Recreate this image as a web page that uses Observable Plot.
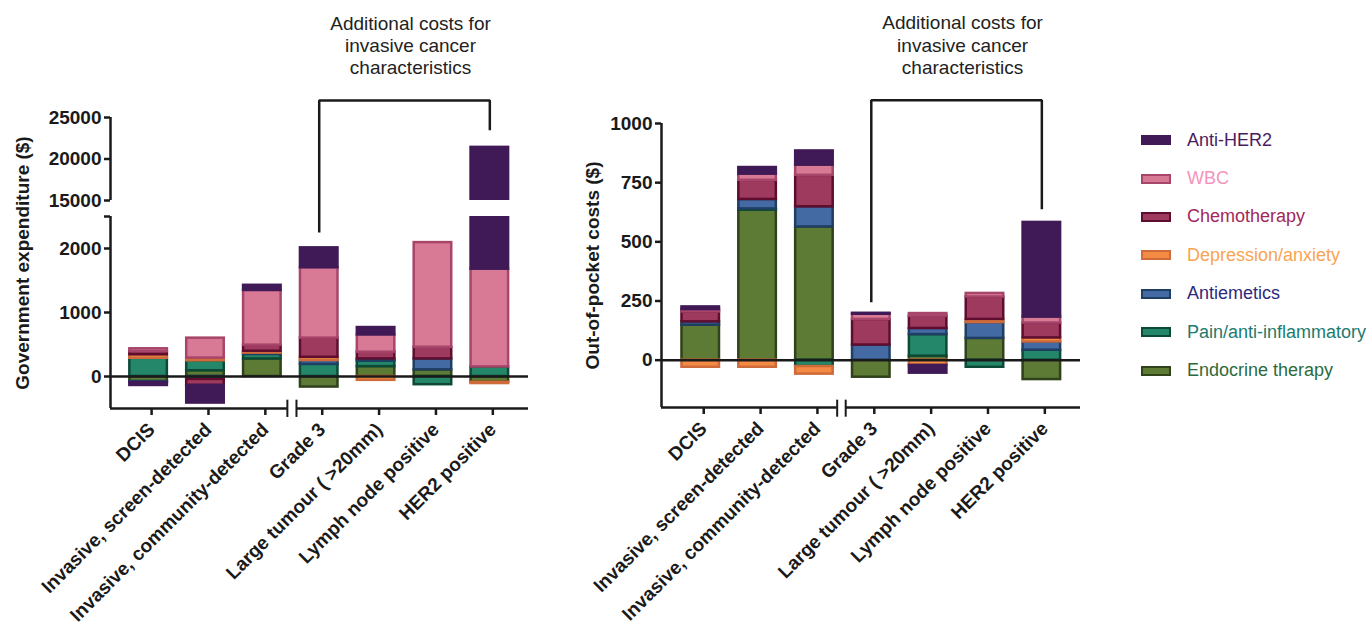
<!DOCTYPE html>
<html>
<head>
<meta charset="utf-8">
<script src="https://cdn.jsdelivr.net/npm/d3@7"></script>
<script src="https://cdn.jsdelivr.net/npm/@observablehq/plot@0.6"></script>
<style>
  body { margin: 0; background: #fff; }
  #wrap { position: relative; width: 1372px; height: 631px; overflow: hidden; font-family: "Liberation Sans", Arial, sans-serif; }
  #left { position: absolute; left: 0; top: 0; }
  #right { position: absolute; left: 560px; top: 0; }
  #legend { position: absolute; left: 1141px; top: 121px; }
  .item { display: flex; align-items: center; height: 38.4px; }
  .sw { width: 26px; height: 6px; border: 2px solid; margin-right: 16px; }
  .lab { font-size: 18px; white-space: nowrap; }
</style>
</head>
<body>
<div id="wrap"><div id="left"></div><div id="right"></div><div id="legend"></div></div>
<script>
// ---------- data ----------
const categories = ["DCIS", "Invasive, screen-detected", "Invasive, community-detected", "Grade 3", "Large tumour ( >20mm)", "Lymph node positive", "HER2 positive"];
// stacking order (bottom to top)
const series = ["Endocrine therapy", "Pain/anti-inflammatory", "Antiemetics", "Depression/anxiety", "Chemotherapy", "WBC", "Anti-HER2"];
const legendOrder = ["Anti-HER2", "WBC", "Chemotherapy", "Depression/anxiety", "Antiemetics", "Pain/anti-inflammatory", "Endocrine therapy"];
const fillColors = ["#5d7b35", "#258769", "#436aa3", "#f38b45", "#9e3a5e", "#d87a96", "#3f1a56"];
const strokeColors = ["#2f4219", "#0c4a37", "#1f3e63", "#cf6a3a", "#5e0d2f", "#a8456a", "#3f1a56"];
const textColors = ["#2d6a3b", "#1d7a6e", "#2d2a7c", "#f9a451", "#a3275b", "#f393bd", "#4a1d5e"];

// Government expenditure ($), by category
const govEndocrine   = [-80, 90, 275, -165, 155, 104, -90];
const govPain        = [285, 156, 70, 190, 85, -128, 150];
const govAntiemetics = [-15, -45, 20, 60, 35, 171, 0];
const govDepression  = [55, 42, 30, 50, -60, 0, -20];
const govChemo       = [48, -95, 95, 300, 105, 182, 0];
const govWBC         = [45, 311, 855, 1100, 270, 1635, 1527];
const govAntiHER2    = [-45, -275, 80, 310, 115, 0, 19723];

// Out-of-pocket costs ($), by category
const oopEndocrine   = [148, 634, 563, -72, 17, 92, -82];
const oopPain        = [0, 5, -27, 0, 91, -30, 42];
const oopAntiemetics = [14, 40, 85, 64, 26, 67, 35];
const oopDepression  = [-30, -30, -32, 0, -22, 13, 17];
const oopChemo       = [42, 81, 133, 108, 52, 95, 63];
const oopWBC         = [10, 26, 43, 22, 11, 15, 25];
const oopAntiHER2    = [11, 28, 60, 4, -33, 0, 400];

const govTicks = [0, 1000, 2000, 15000, 20000, 25000];
const oopTicks = [0, 250, 500, 750, 1000];

const annotation = "Additional costs for\ninvasive cancer\ncharacteristics";
const bracketFrom = "Grade 3", bracketTo = "HER2 positive";
const govBracket = {top: 27050, leftEnd: 2250, rightEnd: 23450};
const oopBracket = {top: 1098, leftEnd: 245, rightEnd: 638};

// ---------- drawing ----------
const fillOf = Object.fromEntries(series.map((s, i) => [s, fillColors[i]]));
const strokeOf = Object.fromEntries(series.map((s, i) => [s, strokeColors[i]]));
const half = 0.33;
const font = '"Liberation Sans", Arial, sans-serif';

function panel(p) {
  const rows = [];
  series.forEach((s, si) => p.values[si].forEach((v, i) => {
    if (v !== 0) rows.push({cat: categories[i], i, series: s, value: v});
  }));
  const a = categories.indexOf(bracketFrom), b = categories.indexOf(bracketTo);
  const br = [
    {x: a, y: p.bracket.leftEnd}, {x: a, y: p.bracket.top},
    {x: b, y: p.bracket.top}, {x: b, y: p.bracket.rightEnd}
  ];
  const yMin = p.yDomain[0];
  const allTicks = p.yTicks.concat(p.capTicks);
  const plot = Plot.plot({
    width: p.width, height: 631,
    marginLeft: p.marginLeft, marginRight: p.marginRight, marginTop: p.marginTop, marginBottom: p.marginBottom,
    style: {fontFamily: font, fontSize: "19px", fontWeight: "bold", color: "#1a1a1a", background: "transparent", overflow: "visible"},
    x: {type: "linear", domain: p.xDomain},
    y: p.yRange ? {type: "linear", domain: p.yDomain, range: p.yRange} : {type: "linear", domain: p.yDomain},
    color: {type: "identity"},
    marks: [
      Plot.rectY(rows, {
        x1: d => d.i - half, x2: d => d.i + half, y: "value", z: "series", order: series,
        fill: d => fillOf[d.series], stroke: d => strokeOf[d.series], strokeWidth: 2.5
      }),
      p.gap ? Plot.rect([p.gap], {x1: () => p.xDomain[0], x2: () => p.xDomain[1], y1: d => d[0], y2: d => d[1], fill: "white"}) : null,
      Plot.ruleY([0], {stroke: "#1a1a1a", strokeWidth: 2.5}),
      Plot.ruleX(p.ySegments, {x: () => p.xDomain[0], y1: d => d[0], y2: d => d[1], stroke: "#1a1a1a", strokeWidth: 2.5}),
      Plot.ruleY(p.xSegments, {y: () => yMin, x1: d => d[0], x2: d => d[1], stroke: "#1a1a1a", strokeWidth: 2.5}),
      Plot.ruleX(p.xBreak, {x: d => d, y1: () => p.breakY[0], y2: () => p.breakY[1], stroke: "#1a1a1a", strokeWidth: 2}),
      Plot.axisY({ticks: allTicks, tickFormat: d => p.capTicks.includes(d) ? "" : String(d), tickSize: 6, tickPadding: 3, stroke: "#1a1a1a", strokeWidth: 2.5, fontSize: 19, fontWeight: "bold", fill: "#1a1a1a", label: null}),
      Plot.axisX({ticks: d3.range(categories.length), tickFormat: i => categories[i], tickRotate: -45, tickSize: 7, tickPadding: 11, dx: 3, stroke: "#1a1a1a", strokeWidth: 2.5, fontSize: 19, fontWeight: "bold", fill: "#1a1a1a", label: null}),
      Plot.text([p.yLabel], {frameAnchor: "left", textAnchor: "middle", lineAnchor: "middle", rotate: -90, dx: p.labelDx, fontSize: 19, fontWeight: "bold", fill: "#1a1a1a"}),
      Plot.line(br, {x: "x", y: "y", stroke: "#1a1a1a", strokeWidth: 2.5, strokeLinejoin: "miter", strokeLinecap: "butt"}),
      Plot.text([annotation], {x: () => (a + b) / 2, y: () => p.bracket.top, dx: 6, dy: -26, lineAnchor: "bottom", lineHeight: 1.18, fontSize: 19, fontWeight: "normal", fill: "#222"})
    ]
  });
  document.querySelector(p.el).append(plot);
}

panel({
  el: "#left", width: 560, marginLeft: 110, marginRight: 32, marginTop: 117, marginBottom: 223,
  values: [govEndocrine, govPain, govAntiemetics, govDepression, govChemo, govWBC, govAntiHER2],
  xDomain: [-0.67, 6.68],
  yDomain: [-500, 2500, 15000, 25000], yRange: [408, 216, 200, 117],
  yTicks: govTicks, capTicks: [2500],
  ySegments: [[-500, 2500], [15000, 25000]], gap: [2500, 15000],
  xSegments: [[-0.67, 2.44], [2.6, 6.68]], xBreak: [2.44, 2.6], breakY: [-370, -640],
  yLabel: "Government expenditure ($)", labelDx: -88, bracket: govBracket
});

panel({
  el: "#right", width: 560, marginLeft: 101, marginRight: 40, marginTop: 123, marginBottom: 224,
  values: [oopEndocrine, oopPain, oopAntiemetics, oopDepression, oopChemo, oopWBC, oopAntiHER2],
  xDomain: [-0.69, 6.68],
  yDomain: [-200, 1000], yRange: null,
  yTicks: oopTicks, capTicks: [],
  ySegments: [[-200, 1000]], gap: null,
  xSegments: [[-0.69, 2.4], [2.55, 6.68]], xBreak: [2.4, 2.55], breakY: [-169, -241],
  yLabel: "Out-of-pocket costs ($)", labelDx: -69, bracket: oopBracket
});

// legend
const legend = d3.select("#legend");
legendOrder.forEach(name => {
  const k = series.indexOf(name);
  const item = legend.append("div").attr("class", "item");
  item.append("div").attr("class", "sw").style("background", fillColors[k]).style("border-color", strokeColors[k]);
  item.append("div").attr("class", "lab").style("color", textColors[k]).text(name);
});
</script>
</body>
</html>
